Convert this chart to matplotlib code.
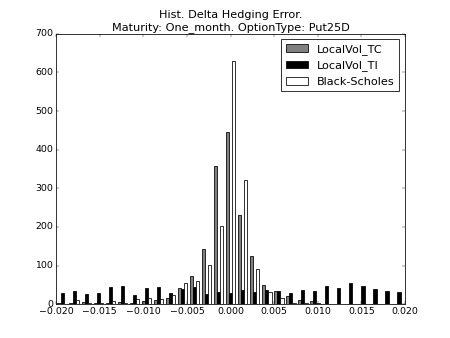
import numpy as np
import matplotlib
matplotlib.use("Agg")
import matplotlib.pyplot as plt

plt.style.use("classic")

# 29 bins spanning [-0.02, 0.02]
bin_edges = np.linspace(-0.02, 0.02, 30)
bin_centers = 0.5 * (bin_edges[:-1] + bin_edges[1:])

localvol_tc = [2, 3, 5, 3, 3, 5, 3, 8, 12, 16, 43, 74, 144, 357, 446, 232, 124,
               49, 34, 20, 12, 7, 1, 1, 0, 0, 0, 0, 0]
localvol_ti = [30, 35, 27, 28, 45, 46, 23, 41, 44, 29, 40, 45, 26, 32, 28, 38, 32,
               38, 33, 30, 38, 35, 48, 42, 54, 46, 39, 34, 32]
black_scholes = [1, 10, 2, 2, 7, 4, 13, 15, 13, 25, 54, 59, 101, 202, 629, 322, 91,
                 31, 17, 4, 4, 2, 0, 0, 0, 0, 0, 0, 0]

labels = ["LocalVol_TC", "LocalVol_TI", "Black-Scholes"]
colors = ["grey", "black", "white"]

fig = plt.figure(figsize=(8, 338 / 56.25), dpi=56.25)
ax = fig.add_subplot(111)
ax.hist([bin_centers, bin_centers, bin_centers], bins=bin_edges,
        weights=[localvol_tc, localvol_ti, black_scholes],
        color=colors, label=labels)
ax.set_xlim(-0.02, 0.02)
ax.set_ylim(0, 700)
ax.set_xticks(np.arange(-0.02, 0.0201, 0.005))
ax.set_yticks(np.arange(0, 701, 100))
ax.set_title("Hist. Delta Hedging Error.\nMaturity: One_month. OptionType: Put25D")
ax.legend(loc="upper right")
fig.savefig("out.png", dpi=56.25)
